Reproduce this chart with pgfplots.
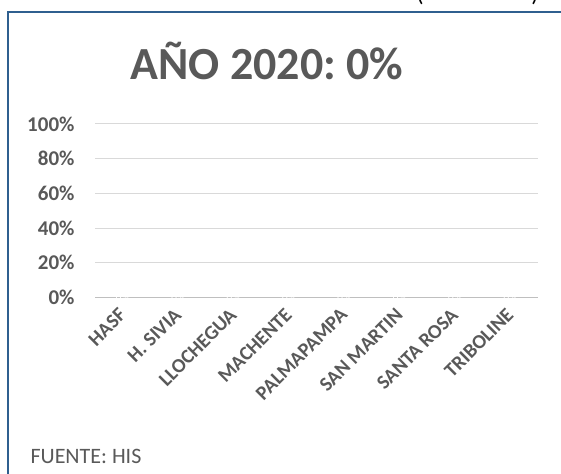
\documentclass[border=0pt]{standalone}
\usepackage{fontspec}
\setmainfont{Carlito}
\usepackage{pgfplots}
\pgfplotsset{compat=1.18}
\definecolor{frameblue}{HTML}{2F5F8F}
\definecolor{txtgray}{HTML}{595959}
\definecolor{gridgray}{HTML}{D9D9D9}
\definecolor{basegray}{HTML}{BFBFBF}
\frenchspacing

\begin{document}
\begin{tikzpicture}[x=1pt,y=1pt]
\useasboundingbox (0,0) rectangle (561,473);
\begin{scope}
\clip (0,0) rectangle (561,473);
% marco del grafico (cortado por la imagen)
\draw[frameblue, line width=2pt] (8,-20) -- (8,461) -- (600,461);
% restos del titulo superior
\node[anchor=base, font=\fontsize{24}{28}\selectfont] at (420,471) {(};
\node[anchor=base, font=\fontsize{24}{28}\selectfont] at (535,471) {)};
\end{scope}

\node[anchor=base, text=txtgray, font=\fontsize{46}{50}\selectfont\bfseries] at (267,393) {AÑO 2020: 0\%};
\node[anchor=base west, text=txtgray, font=\fontsize{22}{26}\selectfont] at (27,10) {FUENTE: HIS};

\begin{axis}[
    at={(95pt,175.5pt)}, anchor=south west,
    scale only axis,
    width=443pt, height=173.5pt,
    ybar, bar width=20pt,
    xmin=-0.5, xmax=7.5,
    ymin=0, ymax=100,
    ytick={20,40,60,80,100},
    extra y ticks={0},
    extra y tick style={grid style={basegray, line width=1.5pt}},
    yticklabel={\pgfmathprintnumber{\tick}\%},
    xtick=data,
    xticklabels={HASF, H. SIVIA, LLOCHEGUA, MACHENTE, PALMAPAMPA, SAN MARTIN, SANTA ROSA, TRIBOLINE},
    /pgf/number format/assume math mode=true,
    axis line style={draw=none},
    major tick length=0pt,
    ymajorgrids, grid style={gridgray, line width=1pt},
    clip=false,
    yticklabel style={text=txtgray, font=\fontsize{21}{24}\selectfont\bfseries, xshift=-17pt},
    xticklabel style={xshift=-5pt, yshift=-8pt, text=txtgray, font=\fontsize{20}{24}\selectfont\bfseries, rotate=45, anchor=north east, inner sep=1pt},
    nodes near coords={0\%},
    every node near coord/.append style={white, font=\fontsize{11}{12}\selectfont, anchor=center, yshift=0pt},
]
\addplot[draw=none, fill=none] coordinates {(0,0) (1,0) (2,0) (3,0) (4,0) (5,0) (6,0) (7,0)};
\end{axis}
\end{tikzpicture}
\end{document}
